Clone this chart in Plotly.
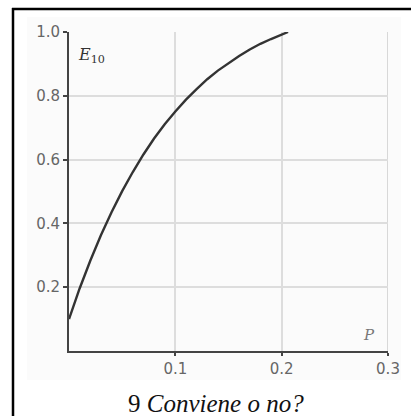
import plotly.graph_objects as go

# Data
p_values = [0.0, 0.01, 0.02, 0.03, 0.04, 0.05, 0.06, 0.07, 0.08, 0.09, 0.10,
            0.11, 0.12, 0.13, 0.14, 0.15, 0.16, 0.17, 0.18, 0.19, 0.20, 0.206]
e10_values = [0.100, 0.196, 0.283, 0.363, 0.435, 0.501, 0.561, 0.616, 0.666, 0.711, 0.751,
              0.788, 0.821, 0.852, 0.879, 0.903, 0.925, 0.945, 0.963, 0.978, 0.993, 1.000]
x_ticks = [0.1, 0.2, 0.3]
x_tick_labels = ["0.1", "0.2", "0.3"]
y_ticks = [0.2, 0.4, 0.6, 0.8, 1.0]
y_tick_labels = ["0.2", "0.4", "0.6", "0.8", "1.0"]
caption = "9 <i>Conviene o no?</i>"

W, H = 411, 416
L, R, T, B = 69, 23, 32, 65
pw, ph = W - L - R, H - T - B

def px(x):
    return (x - L) / pw

def py(y):
    return (H - B - y) / ph

fig = go.Figure()
fig.add_trace(go.Scatter(x=p_values, y=e10_values, mode="lines",
                         line=dict(color="#333333", width=2.4), showlegend=False,
                         cliponaxis=False))

tickfont = dict(family="DejaVu Sans", size=15, color="#666666")
fig.update_xaxes(range=[0, 0.3], tickvals=x_ticks, ticktext=x_tick_labels,
                 showgrid=True, gridcolor="#dddddd", gridwidth=1.5,
                 showline=True, linecolor="#444444", linewidth=2,
                 ticks="outside", ticklen=3, tickwidth=2, tickcolor="#444444",
                 tickfont=tickfont, zeroline=False, fixedrange=True)
fig.update_yaxes(range=[0, 1.0], tickvals=y_ticks, ticktext=y_tick_labels,
                 showgrid=True, gridcolor="#dddddd", gridwidth=1.5,
                 showline=True, linecolor="#444444", linewidth=2,
                 ticks="outside", ticklen=4, tickwidth=2, tickcolor="#444444",
                 tickfont=tickfont, zeroline=False, fixedrange=True)

shapes = [
    # faint background panel
    dict(type="rect", xref="paper", yref="paper", x0=px(27), x1=px(401), y0=py(17), y1=py(380),
         fillcolor="#fbfbfb", line=dict(width=0), layer="below"),
    # right gridline at 0.3
    dict(type="line", xref="x", yref="y", x0=0.3, x1=0.3, y0=0, y1=1.0,
         line=dict(color="#d8d8d8", width=2), layer="below"),
    # outer frame: left and top edges
    dict(type="line", xref="paper", yref="paper", x0=px(13), x1=px(13), y0=py(8), y1=py(420),
         line=dict(color="black", width=2.5)),
    dict(type="line", xref="paper", yref="paper", x0=px(12), x1=px(415), y0=py(9), y1=py(9),
         line=dict(color="black", width=2.5)),
]

annotations = [
    dict(text="<i>E</i><sub>10</sub>", xref="paper", yref="paper", x=px(76), y=py(56),
         xanchor="left", yanchor="middle", showarrow=False,
         font=dict(family="DejaVu Serif", size=16, color="#333333")),
    dict(text="<i>P</i>", xref="paper", yref="paper", x=px(369), y=py(335),
         xanchor="center", yanchor="middle", showarrow=False,
         font=dict(family="DejaVu Serif", size=15, color="#777777")),
    dict(text=caption, xref="paper", yref="paper", x=px(216), y=py(403),
         xanchor="center", yanchor="middle", showarrow=False,
         font=dict(family="Liberation Serif", size=25, color="#111111")),
]

fig.update_layout(width=W, height=H, margin=dict(l=L, r=R, t=T, b=B),
                  paper_bgcolor="white", plot_bgcolor="white",
                  shapes=shapes, annotations=annotations)

fig.write_html("out.html", config={"displayModeBar": False})
